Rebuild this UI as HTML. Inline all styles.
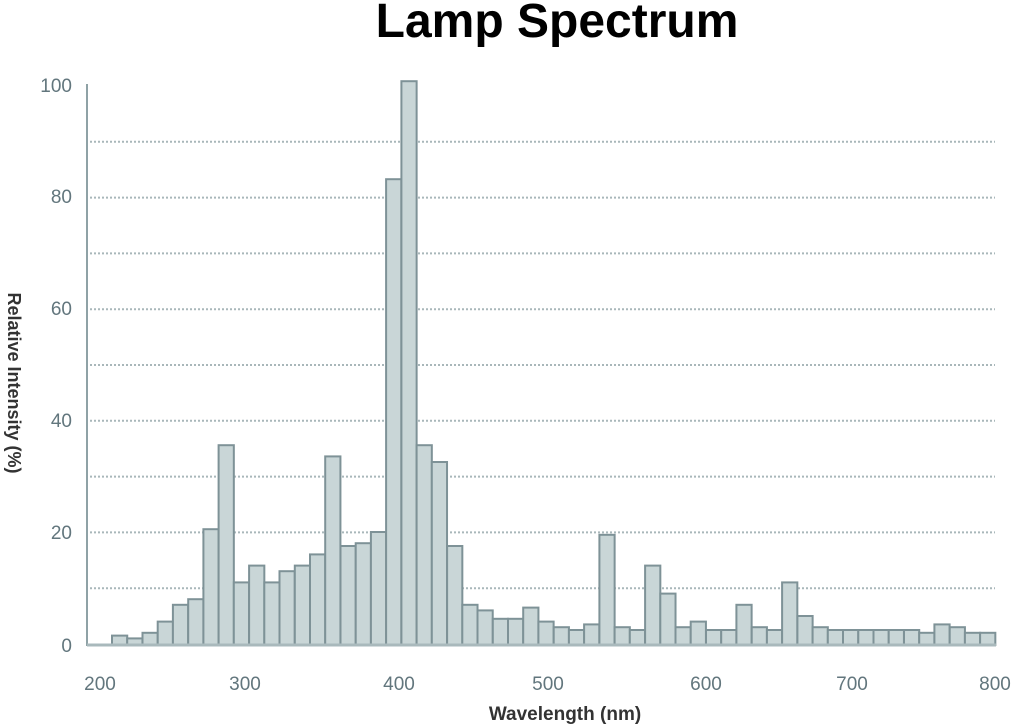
<!DOCTYPE html>
<html><head><meta charset="utf-8"><style>
html,body{margin:0;padding:0;background:#fff;width:1018px;height:725px;overflow:hidden}
svg{display:block}
</style></head><body>
<svg width="1018" height="725" xmlns="http://www.w3.org/2000/svg" font-family="Liberation Sans, sans-serif">
<text x="557" y="37" text-anchor="middle" font-size="48" font-weight="bold" fill="#000">Lamp Spectrum</text>
<g stroke="#a9b7ba" stroke-width="2" stroke-dasharray="2 2">
<line x1="90" x2="995" y1="588.2" y2="588.2"/><line x1="90" x2="995" y1="532.4" y2="532.4"/>
<line x1="90" x2="995" y1="476.6" y2="476.6"/><line x1="90" x2="995" y1="420.8" y2="420.8"/>
<line x1="90" x2="995" y1="365" y2="365"/><line x1="90" x2="995" y1="309.2" y2="309.2"/>
<line x1="90" x2="995" y1="253.4" y2="253.4"/><line x1="90" x2="995" y1="197.6" y2="197.6"/>
<line x1="90" x2="995" y1="141.8" y2="141.8"/>
</g>
<g fill="#c9d6d7" stroke="#7e9297" stroke-width="2">
<rect x="112.0" y="635.6" width="15.23" height="9.4"/>
<rect x="127.2" y="638.4" width="15.23" height="6.6"/>
<rect x="142.5" y="632.8" width="15.23" height="12.2"/>
<rect x="157.7" y="621.6" width="15.23" height="23.4"/>
<rect x="172.9" y="604.8" width="15.23" height="40.2"/>
<rect x="188.2" y="599.2" width="15.23" height="45.8"/>
<rect x="203.4" y="529.2" width="15.23" height="115.8"/>
<rect x="218.6" y="445.2" width="15.23" height="199.8"/>
<rect x="233.8" y="582.4" width="15.23" height="62.6"/>
<rect x="249.1" y="565.6" width="15.23" height="79.4"/>
<rect x="264.3" y="582.4" width="15.23" height="62.6"/>
<rect x="279.5" y="571.2" width="15.23" height="73.8"/>
<rect x="294.8" y="565.6" width="15.23" height="79.4"/>
<rect x="310.0" y="554.4" width="15.23" height="90.6"/>
<rect x="325.2" y="456.4" width="15.23" height="188.6"/>
<rect x="340.5" y="546" width="15.23" height="99"/>
<rect x="355.7" y="543.2" width="15.23" height="101.8"/>
<rect x="370.9" y="532" width="15.23" height="113"/>
<rect x="386.1" y="179.2" width="15.23" height="465.8"/>
<rect x="401.4" y="81.2" width="15.23" height="563.8"/>
<rect x="416.6" y="445.2" width="15.23" height="199.8"/>
<rect x="431.8" y="462" width="15.23" height="183"/>
<rect x="447.1" y="546" width="15.23" height="99"/>
<rect x="462.3" y="604.8" width="15.23" height="40.2"/>
<rect x="477.5" y="610.4" width="15.23" height="34.6"/>
<rect x="492.8" y="618.8" width="15.23" height="26.2"/>
<rect x="508.0" y="618.8" width="15.23" height="26.2"/>
<rect x="523.2" y="607.6" width="15.23" height="37.4"/>
<rect x="538.4" y="621.6" width="15.23" height="23.4"/>
<rect x="553.7" y="627.2" width="15.23" height="17.8"/>
<rect x="568.9" y="630" width="15.23" height="15"/>
<rect x="584.1" y="624.4" width="15.23" height="20.6"/>
<rect x="599.4" y="534.8" width="15.23" height="110.2"/>
<rect x="614.6" y="627.2" width="15.23" height="17.8"/>
<rect x="629.8" y="630" width="15.23" height="15"/>
<rect x="645.1" y="565.6" width="15.23" height="79.4"/>
<rect x="660.3" y="593.6" width="15.23" height="51.4"/>
<rect x="675.5" y="627.2" width="15.23" height="17.8"/>
<rect x="690.7" y="621.6" width="15.23" height="23.4"/>
<rect x="706.0" y="630" width="15.23" height="15"/>
<rect x="721.2" y="630" width="15.23" height="15"/>
<rect x="736.4" y="604.8" width="15.23" height="40.2"/>
<rect x="751.7" y="627.2" width="15.23" height="17.8"/>
<rect x="766.9" y="630" width="15.23" height="15"/>
<rect x="782.1" y="582.4" width="15.23" height="62.6"/>
<rect x="797.4" y="616" width="15.23" height="29"/>
<rect x="812.6" y="627.2" width="15.23" height="17.8"/>
<rect x="827.8" y="630" width="15.23" height="15"/>
<rect x="843.0" y="630" width="15.23" height="15"/>
<rect x="858.3" y="630" width="15.23" height="15"/>
<rect x="873.5" y="630" width="15.23" height="15"/>
<rect x="888.7" y="630" width="15.23" height="15"/>
<rect x="904.0" y="630" width="15.23" height="15"/>
<rect x="919.2" y="632.8" width="15.23" height="12.2"/>
<rect x="934.4" y="624.4" width="15.23" height="20.6"/>
<rect x="949.7" y="627.2" width="15.23" height="17.8"/>
<rect x="964.9" y="632.8" width="15.23" height="12.2"/>
<rect x="980.1" y="632.8" width="15.23" height="12.2"/>
</g>
<line x1="87" y1="84" x2="87" y2="646" stroke="#8fa2a6" stroke-width="2"/>
<line x1="87" y1="645" x2="996" y2="645" stroke="#a9b9bc" stroke-width="3"/>
<g font-size="19" fill="#62767d" text-anchor="end">
<text x="72" y="92">100</text><text x="72" y="203">80</text><text x="72" y="315">60</text>
<text x="72" y="427">40</text><text x="72" y="539">20</text><text x="72" y="652">0</text>
</g>
<g font-size="19" fill="#62767d" text-anchor="middle">
<text x="100" y="690">200</text><text x="245" y="690">300</text><text x="399" y="690">400</text>
<text x="548" y="690">500</text><text x="706" y="690">600</text><text x="852" y="690">700</text><text x="995" y="690">800</text>
</g>
<text x="565" y="720" text-anchor="middle" font-size="19" font-weight="bold" fill="#333">Wavelength (nm)</text>
<text transform="translate(8,383) rotate(90)" text-anchor="middle" font-size="18" font-weight="bold" fill="#333">Relative Intensity (%)</text>
</svg>
</body></html>
